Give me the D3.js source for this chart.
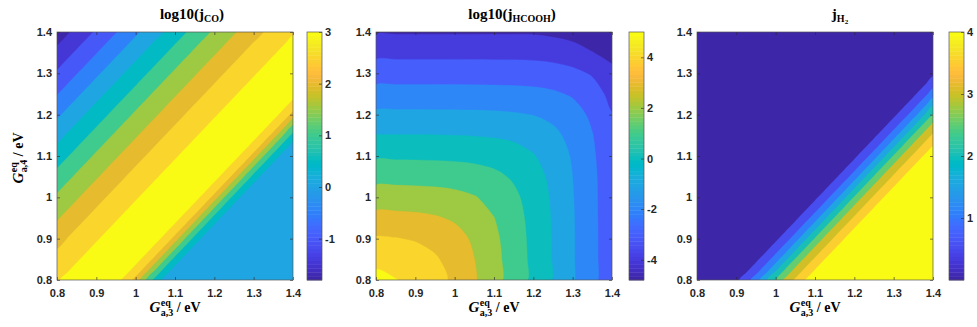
<!DOCTYPE html>
<html>
<head>
<meta charset="utf-8">
<script src="https://cdn.jsdelivr.net/npm/d3@7"></script>
<style>
  body { margin: 0; background: #fff; }
  .ticklab text { font-family: "Liberation Sans", Arial, sans-serif; font-weight: bold; font-size: 11px; fill: #262626; }
  .ticklab line { stroke: #262626; stroke-width: 0.6; }
  .ticklab path { display: none; }
  .serif { font-family: "Liberation Serif", "Times New Roman", serif; font-weight: bold; fill: #000; }
</style>
</head>
<body>
<svg id="fig" width="977" height="327"></svg>
<script>
// ---- shared axes (G_a,3 on x, G_a,4 on y, eV) ----
const gRange = [0.8, 1.4];
const axisTicks = [0.8, 0.9, 1, 1.1, 1.2, 1.3, 1.4];

// ---- panel 1: log10(j_CO), depends on offset d = G4 - G3 ----
// values along d from -0.6 to 0.6 in steps of coStep
const coStep = 0.025;
const coProfile = [
  0.25, 0.25, 0.25, 0.25, 0.25, 0.25, 0.25, 0.25, 0.25, 0.25, 0.25, 0.25, 0.25,
  0.3, 0.8, 1.5, 2.25, 2.95, 3.05, 3.05, 3.05, 3.05, 3.05, 3.04, 2.98,
  2.85, 2.67, 2.5, 2.32, 2.13, 1.95, 1.76, 1.58, 1.38, 1.17, 0.96, 0.75,
  0.54, 0.33, 0.12, -0.09, -0.305, -0.52, -0.725, -0.93, -1.14, -1.36, -1.57, -1.78
];
const coLevels = [-1.5, -1, -0.5, 0, 0.5, 1, 1.5, 2, 2.5, 3];
const coClim = [-1.8, 3];
const coBarTicks = [-1, 0, 1, 2, 3];

// ---- panel 2: log10(j_HCOOH), rows G4 = 0.8..1.4, cols G3 = 0.8..1.4 ----
const hcoohStep = 0.05;
const hcoohGrid = [
  [5.27, 5.03, 4.81, 4.37, 3.79, 3.10, 2.35, 1.57, 0.77, -0.05, -0.90, -1.75, -2.60],
  [4.75, 4.64, 4.44, 4.11, 3.63, 3.01, 2.30, 1.55, 0.76, -0.05, -0.91, -1.75, -2.60],
  [4.10, 4.04, 3.92, 3.71, 3.35, 2.85, 2.21, 1.50, 0.73, -0.06, -0.91, -1.75, -2.60],
  [3.30, 3.27, 3.21, 3.09, 2.88, 2.53, 2.02, 1.40, 0.68, -0.09, -0.92, -1.76, -2.61],
  [2.50, 2.48, 2.45, 2.39, 2.27, 2.06, 1.70, 1.21, 0.58, -0.14, -0.95, -1.77, -2.62],
  [1.67, 1.67, 1.65, 1.62, 1.56, 1.44, 1.23, 0.88, 0.39, -0.24, -1.00, -1.79, -2.64],
  [0.86, 0.85, 0.85, 0.83, 0.80, 0.74, 0.62, 0.42, 0.06, -0.43, -1.10, -1.85, -2.70],
  [0.03, 0.03, 0.03, 0.02, 0.00, -0.03, -0.09, -0.20, -0.41, -0.77, -1.29, -1.96, -2.80],
  [-0.79, -0.79, -0.79, -0.80, -0.80, -0.82, -0.85, -0.91, -1.02, -1.23, -1.62, -2.18, -2.95],
  [-1.62, -1.62, -1.62, -1.62, -1.63, -1.63, -1.65, -1.67, -1.73, -1.86, -2.10, -2.55, -3.30],
  [-2.44, -2.44, -2.44, -2.44, -2.44, -2.45, -2.45, -2.47, -2.50, -2.57, -2.75, -3.10, -3.75],
  [-3.27, -3.27, -3.27, -3.27, -3.27, -3.27, -3.28, -3.28, -3.30, -3.40, -3.60, -3.97, -4.30],
  [-4.09, -4.09, -4.09, -4.09, -4.09, -4.09, -4.09, -4.09, -4.10, -4.20, -4.35, -4.55, -4.80]
];
const hcoohLevels = [-4, -3, -2, -1, 0, 1, 2, 3, 4, 5];
const hcoohClim = [-4.8, 5];
const hcoohBarTicks = [-4, -2, 0, 2, 4];

// ---- panel 3: j_H2, depends on offset d = G4 - G3 ----
const h2Step = 0.025;
const h2Profile = [
  4.02, 4.02, 4.02, 4.02, 4.02, 4.02, 4.02, 4.02, 4.02, 4.02, 4.02, 4.02, 4.02,
  4.0, 3.58, 3.12, 2.55, 1.895, 1.26, 0.77, 0.38, 0.12, 0.02,
  0, 0, 0, 0, 0, 0, 0, 0, 0, 0, 0, 0, 0, 0, 0, 0, 0, 0, 0, 0, 0, 0, 0, 0, 0, 0
];
const h2Levels = [0.5, 1, 1.5, 2, 2.5, 3, 3.5, 4];
const h2Clim = [0, 4];
const h2BarTicks = [1, 2, 3, 4];

// MATLAB parula, 64 entries
const parula = [
  [0.2422,0.1504,0.6603],[0.2504,0.1650,0.7076],[0.2578,0.1818,0.7511],[0.2647,0.1978,0.7952],
  [0.2706,0.2147,0.8364],[0.2751,0.2342,0.8710],[0.2783,0.2559,0.8991],[0.2803,0.2782,0.9221],
  [0.2813,0.3006,0.9414],[0.2810,0.3228,0.9579],[0.2795,0.3447,0.9717],[0.2760,0.3667,0.9829],
  [0.2699,0.3892,0.9906],[0.2602,0.4123,0.9952],[0.2440,0.4358,0.9988],[0.2206,0.4603,0.9973],
  [0.1963,0.4847,0.9892],[0.1834,0.5074,0.9798],[0.1786,0.5289,0.9682],[0.1764,0.5499,0.9520],
  [0.1687,0.5703,0.9359],[0.1540,0.5902,0.9218],[0.1460,0.6091,0.9079],[0.1380,0.6276,0.8973],
  [0.1248,0.6459,0.8883],[0.1113,0.6633,0.8763],[0.0952,0.6798,0.8598],[0.0689,0.6948,0.8394],
  [0.0297,0.7082,0.8163],[0.0036,0.7203,0.7917],[0.0067,0.7312,0.7660],[0.0433,0.7411,0.7394],
  [0.0964,0.7500,0.7120],[0.1408,0.7584,0.6842],[0.1717,0.7670,0.6554],[0.1938,0.7758,0.6251],
  [0.2161,0.7843,0.5923],[0.2470,0.7918,0.5567],[0.2906,0.7973,0.5188],[0.3406,0.8008,0.4789],
  [0.3909,0.8029,0.4354],[0.4456,0.8024,0.3909],[0.5044,0.7993,0.3480],[0.5616,0.7942,0.3045],
  [0.6174,0.7876,0.2612],[0.6720,0.7793,0.2227],[0.7242,0.7698,0.1910],[0.7738,0.7598,0.1646],
  [0.8203,0.7498,0.1535],[0.8634,0.7406,0.1596],[0.9035,0.7330,0.1774],[0.9393,0.7288,0.2100],
  [0.9728,0.7298,0.2394],[0.9956,0.7434,0.2371],[0.9970,0.7659,0.2199],[0.9952,0.7893,0.2028],
  [0.9892,0.8136,0.1885],[0.9786,0.8386,0.1766],[0.9676,0.8639,0.1643],[0.9610,0.8890,0.1537],
  [0.9597,0.9135,0.1423],[0.9628,0.9373,0.1265],[0.9691,0.9606,0.1064],[0.9769,0.9839,0.0805]
].map(c => d3.rgb(c[0] * 255, c[1] * 255, c[2] * 255).formatHex());

const cmap = (v, clim) => {
  const k = Math.floor((v - clim[0]) / (clim[1] - clim[0]) * parula.length);
  return parula[Math.max(0, Math.min(parula.length - 1, k))];
};

// grids for d3.contours (row = G4 index, col = G3 index)
function gridFromProfile(profile, step) {
  const n = Math.round((gRange[1] - gRange[0]) / step) + 1;
  const values = new Array(n * n);
  for (let j = 0; j < n; j++)
    for (let i = 0; i < n; i++) values[j * n + i] = profile[(n - 1) + j - i];
  return { n, values };
}

const panels = [
  { left: 57, cbLeft: 307, titleX: 192, grid: gridFromProfile(coProfile, coStep), step: coStep,
    levels: coLevels, clim: coClim, barTicks: coBarTicks, title: ['log10(j', 'CO', null], ylab: true },
  { left: 376, cbLeft: 629, titleX: 512, grid: { n: hcoohGrid.length, values: hcoohGrid.flat() }, step: hcoohStep,
    levels: hcoohLevels, clim: hcoohClim, barTicks: hcoohBarTicks, title: ['log10(j', 'HCOOH', null], ylab: false },
  { left: 697, cbLeft: 949, titleX: 840, grid: gridFromProfile(h2Profile, h2Step), step: h2Step,
    levels: h2Levels, clim: h2Clim, barTicks: h2BarTicks, title: ['j', 'H', '2'], ylab: false }
];

const plotTop = 32, plotBottom = 280, plotW = 236, cbW = 15;
const svg = d3.select('#fig');
const defs = svg.append('defs');
const ringLine = d3.line().curve(d3.curveCatmullRomClosed.alpha(0.5));

function gLabel(g, sub) {
  let x = 0;
  const add = (txt, size, y, italic) => {
    const el = g.append('text').attr('class', 'serif').attr('x', x).attr('y', y)
      .style('font-size', size + 'px').style('font-style', italic ? 'italic' : 'normal').text(txt);
    return el.node().getComputedTextLength();
  };
  x += add('G', 15, 0, true) + 0.5;
  const w1 = add('eq', 10, -6, false);
  const w2 = add('a,' + sub, 10, 4, false);
  x += Math.max(w1, w2) + 3.5;
  x += add('/ eV', 14, 0, false);
  g.selectAll('text').attr('transform', `translate(${-x / 2},0)`);
}

panels.forEach((p, pi) => {
  const x = d3.scaleLinear().domain(gRange).range([p.left, p.left + plotW]);
  const y = d3.scaleLinear().domain(gRange).range([plotBottom, plotTop]);
  const g = svg.append('g');

  defs.append('clipPath').attr('id', 'clip' + pi)
    .append('rect').attr('x', p.left).attr('y', plotTop).attr('width', plotW).attr('height', plotBottom - plotTop);

  // grid coords -> pixels (grid value i sits at i + 0.5)
  const step = p.step;
  const toPx = ([gx, gy]) => [x(gRange[0] + (gx - 0.5) * step), y(gRange[0] + (gy - 0.5) * step)];
  const contourPath = c => c.coordinates
    .map(poly => poly.map(ring => ringLine(ring.slice(0, -1).map(toPx))).join(''))
    .join('');
  const contours = d3.contours().size([p.grid.n, p.grid.n]).thresholds(p.levels)(p.grid.values);

  const area = g.append('g').attr('clip-path', `url(#clip${pi})`);
  area.append('rect').attr('x', p.left).attr('y', plotTop).attr('width', plotW).attr('height', plotBottom - plotTop)
    .attr('fill', parula[0]);
  area.selectAll('path').data(contours).join('path')
    .attr('d', contourPath)
    .attr('fill-rule', 'evenodd')
    .attr('fill', d => cmap(d.value, p.clim))
    .attr('stroke', d => cmap(d.value, p.clim))
    .attr('stroke-width', 0.3);

  // axes
  g.append('g').attr('class', 'ticklab').attr('transform', `translate(0,${plotBottom})`)
    .call(d3.axisBottom(x).tickValues(axisTicks).tickSize(-3).tickPadding(9).tickFormat(d => String(d)));
  g.append('g').attr('class', 'ticklab').attr('transform', `translate(${p.left},0)`)
    .call(d3.axisLeft(y).tickValues(axisTicks).tickSize(-3).tickPadding(5).tickFormat(d => String(d)));
  g.append('g').attr('class', 'ticklab').attr('transform', `translate(0,${plotTop})`)
    .call(d3.axisTop(x).tickValues(axisTicks).tickSize(-3).tickFormat(''));
  g.append('g').attr('class', 'ticklab').attr('transform', `translate(${p.left + plotW},0)`)
    .call(d3.axisRight(y).tickValues(axisTicks).tickSize(-3).tickFormat(''));
  g.append('rect').attr('x', p.left).attr('y', plotTop).attr('width', plotW).attr('height', plotBottom - plotTop)
    .attr('fill', 'none').attr('stroke', '#555').attr('stroke-width', 0.7);

  // colorbar
  const cb = d3.scaleLinear().domain(p.clim).range([plotBottom, plotTop]);
  const cellH = (plotBottom - plotTop) / parula.length;
  g.append('g').selectAll('rect').data(parula).join('rect')
    .attr('x', p.cbLeft).attr('width', cbW)
    .attr('y', (c, k) => plotBottom - (k + 1) * cellH).attr('height', cellH + 0.4)
    .attr('fill', c => c);
  g.append('g').attr('class', 'ticklab').attr('transform', `translate(${p.cbLeft + cbW},0)`)
    .call(d3.axisRight(cb).tickValues(p.barTicks).tickSize(-3).tickPadding(3).tickFormat(d => String(d)));
  g.append('rect').attr('x', p.cbLeft).attr('y', plotTop).attr('width', cbW).attr('height', plotBottom - plotTop)
    .attr('fill', 'none').attr('stroke', '#555').attr('stroke-width', 0.7);

  // title
  const t = g.append('text').attr('class', 'serif').attr('x', p.titleX).attr('y', 19)
    .attr('text-anchor', 'middle').style('font-size', '15px');
  t.append('tspan').text(p.title[0]);
  t.append('tspan').attr('dy', 3).style('font-size', '10px').text(p.title[1]);
  if (p.title[2]) t.append('tspan').attr('dy', 2).style('font-size', '7px').text(p.title[2]);
  else t.append('tspan').attr('dy', -3).text(')');

  // axis labels
  gLabel(g.append('g').attr('transform', `translate(${p.left + plotW / 2},312)`), '3');
  if (p.ylab) gLabel(g.append('g').attr('transform', `translate(23,158) rotate(-90)`), '4');
});
</script>
</body>
</html>
